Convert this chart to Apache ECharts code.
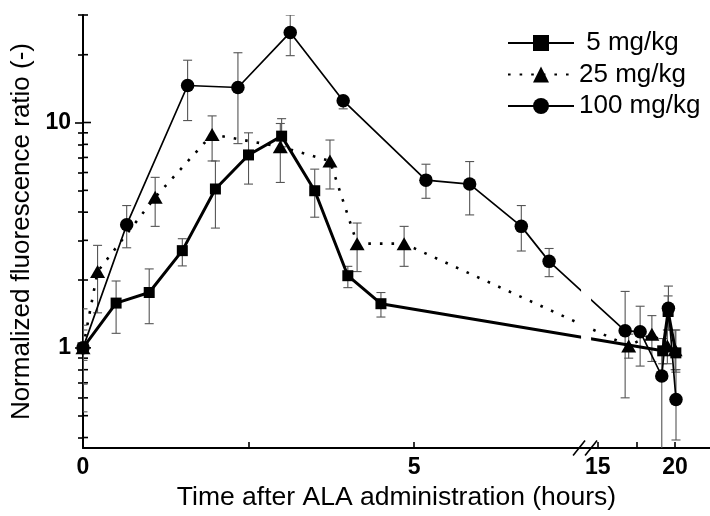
<!DOCTYPE html>
<html><head><meta charset="utf-8">
<script src="https://cdn.jsdelivr.net/npm/echarts@6/dist/echarts.min.js"></script>
<style>html,body{margin:0;padding:0;background:#fff}#c{width:710px;height:516px}</style>
</head><body><div id="c"></div>
<script>
// ---------------- data (time in hours, normalized fluorescence ratio) ----------------
const seriesNames = ['5 mg/kg', '25 mg/kg', '100 mg/kg'];

const time5 = [0, 0.5, 1, 1.5, 2, 2.5, 3, 3.5, 4, 4.5, 19.2, 19.55, 20.05];
const mean5 = [1, 1.58, 1.76, 2.70, 5.07, 7.18, 8.7, 4.98, 2.09, 1.57, 0.97, 1.45, 0.95];
const hi5   = [1.2, 1.98, 2.24, 3.05, 6.75, 9.0, 10.4, 6.21, 2.30, 1.76, 1.10, 1.70, 1.20];
const lo5   = [0.88, 1.16, 1.28, 2.31, 3.40, 5.33, 7.8, 3.80, 1.85, 1.37, 0.85, 1.20, 0.78];

const time25 = [0, 0.22, 1.09, 1.95, 2.98, 3.73, 4.14, 4.85, 17, 18.5, 19.5, 20];
const mean25 = [1, 2.18, 4.66, 8.85, 7.81, 6.75, 2.90, 2.90, 1.02, 1.15, 1.02, 0.98];
const hi25   = [1.49, 2.85, 5.71, 10.7, 9.9, 8.36, 3.58, 3.46, 1.15, 1.39, 1.20, 1.20];
const lo25   = [0.69, 1.43, 3.46, 6.75, 5.42, 5.07, 2.18, 2.30, 0.90, 0.87, 0.85, 0.80];

const time100 = [0, 0.66, 1.58, 2.34, 3.13, 3.93, 5.18, 5.84, 6.62, 7.04, 16.77, 17.74, 19.14, 19.57, 20.06];
const mean100 = [1, 3.52, 14.6, 14.3, 25.1, 12.5, 5.55, 5.33, 3.46, 2.42, 1.19, 1.18, 0.75, 1.50, 0.59];
const hi100   = [1.26, 4.28, 18.9, 20.4, 30, 13.0, 6.53, 6.71, 4.28, 2.76, 1.78, 1.53, 0.95, 1.88, 0.80];
const lo100   = [0.52, 2.78, 10.2, 8.06, 19.8, 11.5, 4.61, 3.89, 2.69, 2.07, 0.60, 0.83, 0.30, 1.20, 0.39];

const xLabelHours = [0, 5, 15, 20];
const xTickHours = [2.5, 5, 15, 17.5, 20];
const yLabelValues = [1, 10];
const yMinorTicks = [0.4, 0.5, 0.6, 0.7, 0.8, 0.9, 2, 3, 4, 5, 6, 7, 8, 9, 20, 30];

// ---------------- broken time axis (two segments with different scales) ----------------
const BREAK_AT = 7.583;            // axis unit where the "//" break is drawn
const RIGHT_START_HOURS = 15;      // first hour shown after the break
const RIGHT_START_U = 7.775;       // axis unit of 15 h
const RIGHT_U_PER_HOUR = 0.2335;   // compression of the right segment
const X_MAX = 9.47;
const Y_MIN = 0.359, Y_MAX = 30;
function toAxis(h) { return h < RIGHT_START_HOURS ? h : RIGHT_START_U + (h - RIGHT_START_HOURS) * RIGHT_U_PER_HOUR; }
function fromAxis(u) { return u <= BREAK_AT ? u : RIGHT_START_HOURS + (u - RIGHT_START_U) / RIGHT_U_PER_HOUR; }

const FONT = '"Liberation Sans", Arial, sans-serif';

function pts(t, m) { return t.map((h, i) => [toAxis(h), m[i]]); }
function errs(t, lo, hi) { return t.map((h, i) => [toAxis(h), lo[i], hi[i]]); }

function errRender(params, api) {
  const x = api.value(0), lo = api.value(1), hi = api.value(2);
  const p1 = api.coord([x, hi]), p2 = api.coord([x, lo]);
  const w = 4.5;
  const style = { stroke: '#555', lineWidth: 1.1 };
  return { type: 'group', children: [
    { type: 'line', shape: { x1: p1[0], y1: p1[1], x2: p2[0], y2: p2[1] }, style },
    { type: 'line', shape: { x1: p1[0] - w, y1: p1[1], x2: p1[0] + w, y2: p1[1] }, style },
    { type: 'line', shape: { x1: p2[0] - w, y1: p2[1], x2: p2[0] + w, y2: p2[1] }, style }
  ]};
}
function breakRender(params, api) {
  const p = api.coord([api.value(0), Y_MIN]);
  const top = api.coord([api.value(0), Y_MAX]);
  const s = { stroke: '#000', lineWidth: 1.6 };
  return { type: 'group', children: [
    { type: 'rect', shape: { x: p[0] - 4, y: top[1], width: 10, height: p[1] - top[1] - 3 }, style: { fill: '#fff' } },
    { type: 'line', shape: { x1: p[0] - 12, y1: p[1] + 7.5, x2: p[0], y2: p[1] - 7.5 }, style: s },
    { type: 'line', shape: { x1: p[0], y1: p[1] + 7.5, x2: p[0] + 12, y2: p[1] - 7.5 }, style: s }
  ]};
}
// inner half of the crossing y-axis ticks
function innerTickRender(params, api) {
  const p = api.coord([0, api.value(1)]);
  return { type: 'line', shape: { x1: p[0], y1: p[1], x2: p[0] + api.value(2), y2: p[1] },
    style: { stroke: '#000', lineWidth: 1.6 } };
}

const tickStyle = { color: '#000', width: 1.6 };
const yBase = { type: 'log', min: Y_MIN, max: Y_MAX, position: 'left',
  splitLine: { show: false }, axisLabel: { show: false }, axisLine: { show: false }, minorTick: { show: false } };

const option = {
  animation: false,
  backgroundColor: '#fff',
  grid: { left: 83, right: 0, top: 15, bottom: 65 },
  legend: {
    data: seriesNames, orient: 'vertical', left: 502, top: 25,
    itemWidth: 66, itemHeight: 20, itemGap: 5.5, selectedMode: false,
    formatter: n => (n === '5 mg/kg' ? ' ' + n : n),
    textStyle: { fontSize: 26, lineHeight: 26, color: '#000', fontFamily: FONT }
  },
  xAxis: {
    type: 'value', min: 0, max: X_MAX,
    axisLine: { lineStyle: { color: '#000', width: 2 } },
    splitLine: { show: false },
    axisTick: { customValues: xTickHours.map(toAxis), inside: true, length: 6, lineStyle: tickStyle },
    axisLabel: { customValues: xLabelHours.map(toAxis), formatter: v => String(Math.round(fromAxis(v))),
      fontWeight: 'bold', fontSize: 23, color: '#000', fontFamily: FONT, margin: 8 },
    name: 'Time after ALA administration (hours)', nameLocation: 'middle', nameGap: 35,
    nameTextStyle: { fontSize: 26.5, color: '#000', fontFamily: FONT }
  },
  yAxis: [
    Object.assign({}, yBase, {
      axisLine: { show: true, lineStyle: { color: '#000', width: 2 } },
      axisLabel: { show: true, customValues: yLabelValues, formatter: v => String(v), fontWeight: 'bold',
        fontSize: 23, color: '#000', fontFamily: FONT, margin: 12 },
      axisTick: { customValues: yLabelValues, length: 8, lineStyle: tickStyle },
      name: 'Normalized fluorescence ratio (-)', nameLocation: 'middle', nameGap: 46,
      nameTextStyle: { fontSize: 26, color: '#000', fontFamily: FONT }
    }),
    Object.assign({}, yBase, { axisTick: { customValues: yMinorTicks, length: 5, lineStyle: tickStyle } })
  ],
  series: [
    { type: 'custom', name: 'innerTicks', renderItem: innerTickRender,
      data: yLabelValues.map(v => [0, v, 8]).concat(yMinorTicks.map(v => [0, v, 5])),
      encode: { x: 0, y: 1 }, clip: false, z: 1, silent: true },
    { type: 'custom', name: 'err5', renderItem: errRender, data: errs(time5, lo5, hi5), encode: { x: 0, y: [1, 2] }, clip: true, z: 1, silent: true },
    { type: 'custom', name: 'err25', renderItem: errRender, data: errs(time25, lo25, hi25), encode: { x: 0, y: [1, 2] }, clip: true, z: 1, silent: true },
    { type: 'custom', name: 'err100', renderItem: errRender, data: errs(time100, lo100, hi100), encode: { x: 0, y: [1, 2] }, clip: true, z: 1, silent: true },
    { type: 'line', name: seriesNames[0], data: pts(time5, mean5), symbol: 'rect', symbolSize: 11, showAllSymbol: true,
      lineStyle: { color: '#000', width: 3 }, itemStyle: { color: '#000' }, z: 2 },
    { type: 'line', name: seriesNames[1], data: pts(time25, mean25), symbol: 'triangle', symbolSize: [15, 13], showAllSymbol: true,
      lineStyle: { color: '#000', width: 2.6, type: [2.6, 9] }, itemStyle: { color: '#000' }, z: 2 },
    { type: 'line', name: seriesNames[2], data: pts(time100, mean100), symbol: 'circle', symbolSize: 13.5, showAllSymbol: true,
      lineStyle: { color: '#000', width: 1.7 }, itemStyle: { color: '#000' }, z: 2 },
    { type: 'custom', name: 'axisBreak', renderItem: breakRender, data: [[BREAK_AT, Y_MIN]], encode: { x: 0, y: 1 }, clip: false, z: 3, silent: true }
  ]
};

const chart = echarts.init(document.getElementById('c'), null, { renderer: 'canvas' });
chart.setOption(option);
</script>
</body></html>
